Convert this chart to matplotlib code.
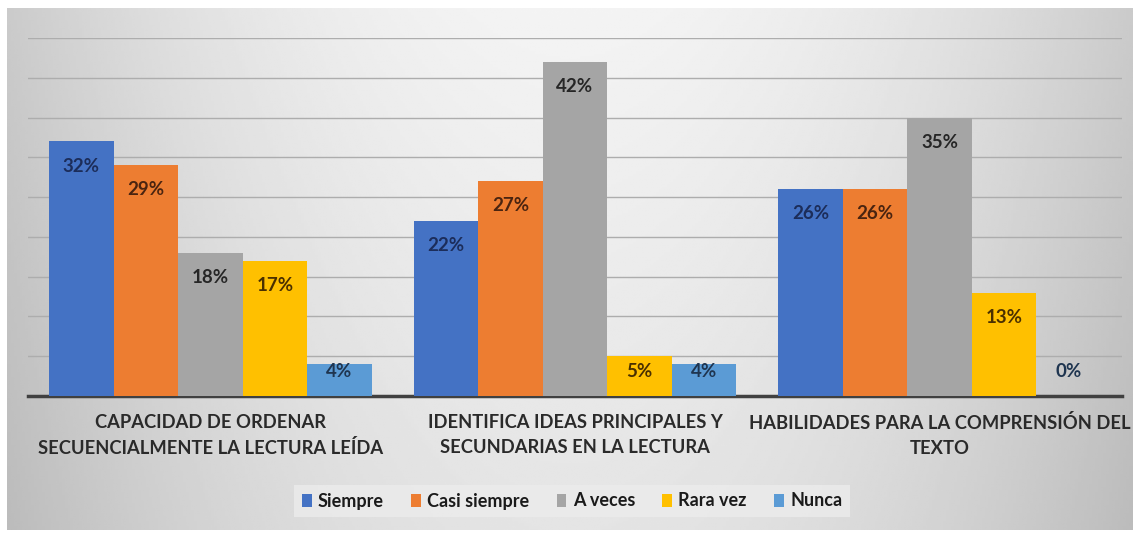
import numpy as np
import matplotlib.pyplot as plt

# datos
categories = ['CAPACIDAD DE ORDENAR\nSECUENCIALMENTE LA LECTURA LEÍDA',
              'IDENTIFICA IDEAS PRINCIPALES Y\nSECUNDARIAS EN LA LECTURA',
              'HABILIDADES PARA LA COMPRENSIÓN DEL\nTEXTO']
series = ['Siempre', 'Casi siempre', 'A veces', 'Rara vez', 'Nunca']
siempre = [32, 22, 26]
casi_siempre = [29, 27, 26]
a_veces = [18, 42, 35]
rara_vez = [17, 5, 13]
nunca = [4, 4, 0]

colors = ['#4472C4', '#ED7D31', '#A5A5A5', '#FFC000', '#5B9BD5']
label_colors = ['#1c2d5a', '#4a2410', '#262626', '#4a3000', '#1f3550']
fam = ['Lato', 'DejaVu Sans']

W, H = 1139, 534
fig = plt.figure(figsize=(W/100, H/100), dpi=100)
fig.patch.set_facecolor('white')

# fondo degradado
bg = fig.add_axes([7/W, 1-530/H, (1133-7)/W, (530-8)/H])
xx = np.linspace(-1, 1, 400)
yy = np.linspace(0, 1, 200)
X, Y = np.meshgrid(xx, yy)
grad = 0.955 - 0.16*X**2 - 0.06*Y
bg.imshow(grad, cmap='gray', vmin=0, vmax=1, aspect='auto', extent=[0, 1, 0, 1])
bg.axis('off')

ax = fig.add_axes([28/W, 1-396/H, 1094/W, (396-38)/H])
ax.set_facecolor('none')

data = [siempre, casi_siempre, a_veces, rara_vez, nunca]
x = np.arange(len(categories))
w = 0.177
for i, vals in enumerate(data):
    pos = x + (i-2)*w
    ax.bar(pos, vals, w, color=colors[i], label=series[i], zorder=3)
    for p, v in zip(pos, vals):
        ax.text(p, max(v-3.1, 3.1), f'{v}%', ha='center', va='center',
                fontsize=13.5, fontweight='bold', color=label_colors[i],
                family=fam, zorder=4)

ax.set_xlim(-0.5, 2.5)
ax.set_ylim(0, 45)
ax.set_yticks(np.arange(0, 46, 5))
ax.yaxis.grid(True, color='#adadad', lw=1)
ax.set_axisbelow(True)
ax.tick_params(axis='y', length=0, labelleft=False)
ax.tick_params(axis='x', length=0, pad=13)
ax.set_xticks(x)
ax.set_xticklabels(categories, fontsize=13.2, fontweight='bold', color='#2a2a2a',
                   family=fam, linespacing=1.55)
for s in ['top', 'right', 'left']:
    ax.spines[s].set_visible(False)
ax.spines['bottom'].set_color('#404040')
ax.spines['bottom'].set_linewidth(2.5)

leg = fig.legend(loc='center', bbox_to_anchor=(572/W, 1-501/H), ncol=5,
                 frameon=True, fancybox=False, handlelength=0.55, handleheight=0.7,
                 handletextpad=0.35, columnspacing=1.5,
                 prop={'family': fam, 'size': 13, 'weight': 'bold'})
leg.get_frame().set_facecolor('#ececec')
leg.get_frame().set_edgecolor('none')
for t in leg.get_texts():
    t.set_color('#1a1a1a')

fig.savefig('out.png', dpi=100)
